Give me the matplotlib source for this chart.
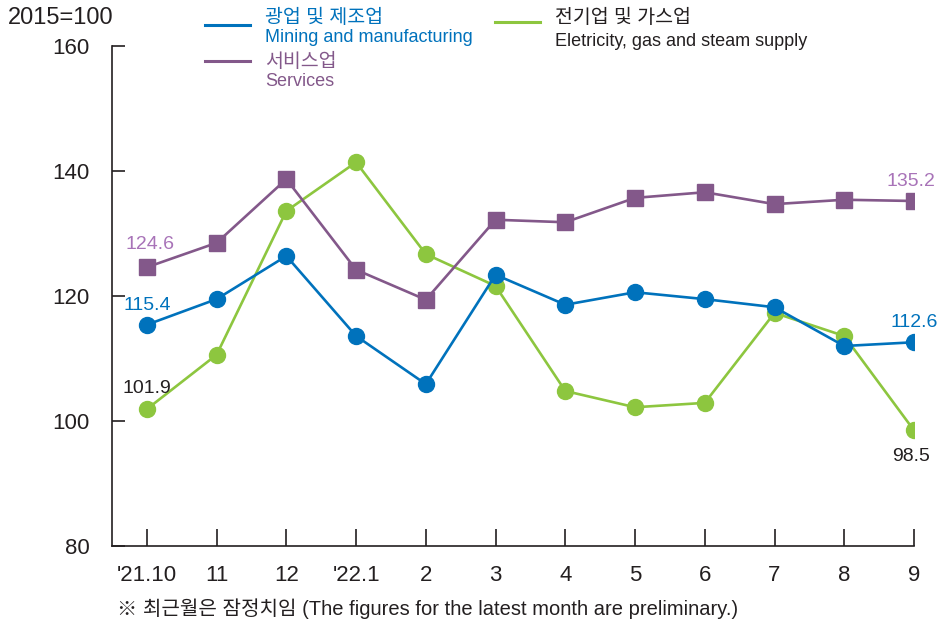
import matplotlib.pyplot as plt
from matplotlib.lines import Line2D

plt.rcParams['font.family'] = ['Liberation Sans', 'Noto Sans CJK KR', 'DejaVu Sans']

months = ["'21.10", "11", "12", "'22.1", "2", "3", "4", "5", "6", "7", "8", "9"]
mining = [115.4, 119.5, 126.4, 113.6, 105.9, 123.4, 118.6, 120.6, 119.5, 118.2, 112.0, 112.6]
services = [124.6, 128.5, 138.7, 124.2, 119.4, 132.2, 131.8, 135.7, 136.6, 134.7, 135.4, 135.2]
electric = [101.9, 110.6, 133.6, 141.4, 126.7, 121.6, 104.8, 102.2, 102.9, 117.3, 113.6, 98.5]

blue = '#0072bc'
purple = '#83588a'
purple_lbl = '#a873b8'
green = '#8dc63f'
dark = '#231f20'

W, H = 938, 626
fig = plt.figure(figsize=(W / 100, H / 100), dpi=100)
ax = fig.add_axes([112 / W, 1 - 546 / H, (914 - 112) / W, (546 - 46) / H])

x = list(range(len(months)))
ax.plot(x, mining, color=blue, lw=1.9, marker='o', ms=11.5, zorder=3)
ax.plot(x, electric, color=green, lw=1.9, marker='o', ms=11.5, zorder=2)
ax.plot(x, services, color=purple, lw=1.9, marker='s', ms=11, zorder=4)

ax.set_xlim(-0.5, 11)
ax.set_ylim(80, 160)
ax.set_yticks([80, 100, 120, 140, 160])
ax.set_xticks(x)
ax.set_xticklabels(months)
for s in ['top', 'right']:
    ax.spines[s].set_visible(False)
for s in ['left', 'bottom']:
    ax.spines[s].set_color(dark)
    ax.spines[s].set_linewidth(1.2)
ax.tick_params(axis='y', direction='in', length=9, width=1.2, pad=16, labelsize=16, colors=dark)
ax.tick_params(axis='x', direction='in', length=12, width=1.2, pad=14, labelsize=16, colors=dark)

# end-point value labels
ax.annotate(f'{services[0]}', (0, services[0]), xytext=(2, 10), textcoords='offset points',
            ha='center', va='bottom', fontsize=14, color=purple_lbl)
ax.annotate(f'{mining[0]}', (0, mining[0]), xytext=(0, 8), textcoords='offset points',
            ha='center', va='bottom', fontsize=14, color=blue)
ax.annotate(f'{electric[0]}', (0, electric[0]), xytext=(0, 9), textcoords='offset points',
            ha='center', va='bottom', fontsize=14, color=dark)
ax.annotate(f'{services[-1]}', (11, services[-1]), xytext=(-2, 8), textcoords='offset points',
            ha='center', va='bottom', fontsize=14, color=purple_lbl)
ax.annotate(f'{mining[-1]}', (11, mining[-1]), xytext=(0, 8), textcoords='offset points',
            ha='center', va='bottom', fontsize=14, color=blue)
ax.annotate(f'{electric[-1]}', (11, electric[-1]), xytext=(-2, -13), textcoords='offset points',
            ha='center', va='top', fontsize=14, color=dark)

# hand-placed legend
def fx(px):
    return px / W

def fy(py):
    return 1 - py / H

legend = [
    (205, 25, 265, 18, 38, blue, '광업 및 제조업', 'Mining and manufacturing', blue),
    (205, 61, 265, 62, 81, purple, '서비스업', 'Services', purple),
    (495, 22, 555, 18, 41, green, '전기업 및 가스업', 'Eletricity, gas and steam supply', dark),
]
for x0, ly, tx, ky, ey, lc, kr, en, tc in legend:
    fig.add_artist(Line2D([fx(x0), fx(x0 + 45)], [fy(ly), fy(ly)], color=lc, lw=2.2,
                          transform=fig.transFigure))
    fig.text(fx(tx), fy(ky), kr, fontsize=14, color=tc, va='center', ha='left')
    fig.text(fx(tx), fy(ey), en, fontsize=13, color=tc, va='center', ha='left')

fig.text(fx(8), fy(18), '2015=100', fontsize=17, color=dark, va='center', ha='left')
fig.text(fx(117), fy(609), '※ 최근월은 잠정치임 (The figures for the latest month are preliminary.)',
         fontsize=14.5, color=dark, va='center', ha='left')

fig.savefig('out.png', dpi=100)
